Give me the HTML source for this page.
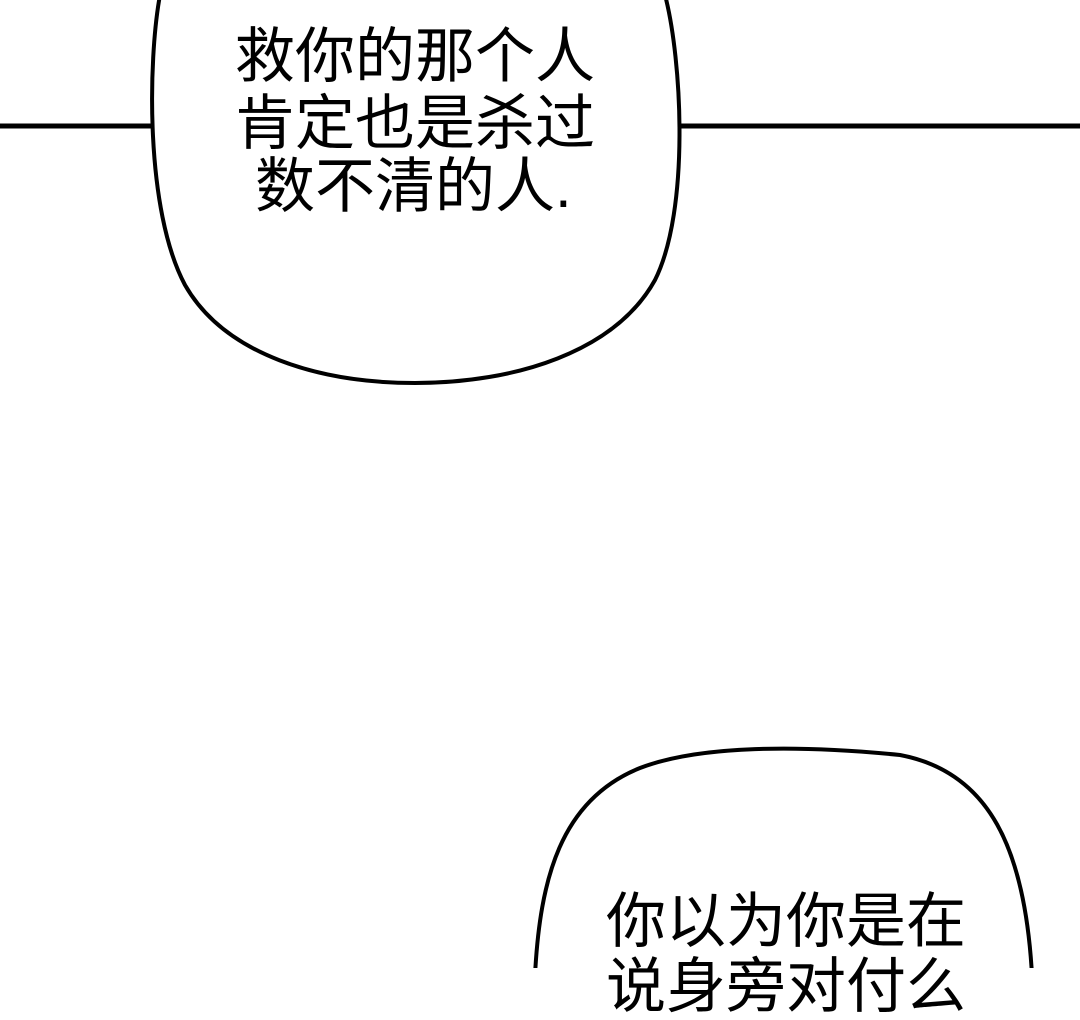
<!DOCTYPE html>
<html><head><meta charset="utf-8">
<style>
html,body{margin:0;padding:0;background:#fff;}
body{width:1080px;height:968px;position:relative;overflow:hidden;font-family:"Liberation Sans","Noto Sans CJK SC",sans-serif;}
.t{position:absolute;font-size:60px;line-height:64px;color:#000;white-space:nowrap;}
</style></head><body>
<svg width="1080" height="968" style="position:absolute;left:0;top:0">
<line x1="0" y1="126" x2="152" y2="126" stroke="#000" stroke-width="5"/>
<line x1="676" y1="126" x2="1080" y2="126" stroke="#000" stroke-width="5"/>
<path d="M160,-5 C148,60 145,210 185,285 C225,355 320,383 415,383 C515,383 615,352 655,280 C690,210 682,60 665,-5" fill="#fff" stroke="#000" stroke-width="4"/>
<path d="M535,975 C540,880 560,800 640,768 C700,745 800,745 900,755 C990,772 1025,850 1032,975" fill="#fff" stroke="#000" stroke-width="4"/>
</svg>
<div class="t" style="left:235px;top:25px;">救你的那个人</div>
<div class="t" style="left:235px;top:92px;">肯定也是杀过</div>
<div class="t" style="left:255px;top:155px;">数不清的人.</div>
<div class="t" style="left:606px;top:890px;">你以为你是在</div>
<div class="t" style="left:606px;top:955px;">说身旁对付么</div>
</body></html>
